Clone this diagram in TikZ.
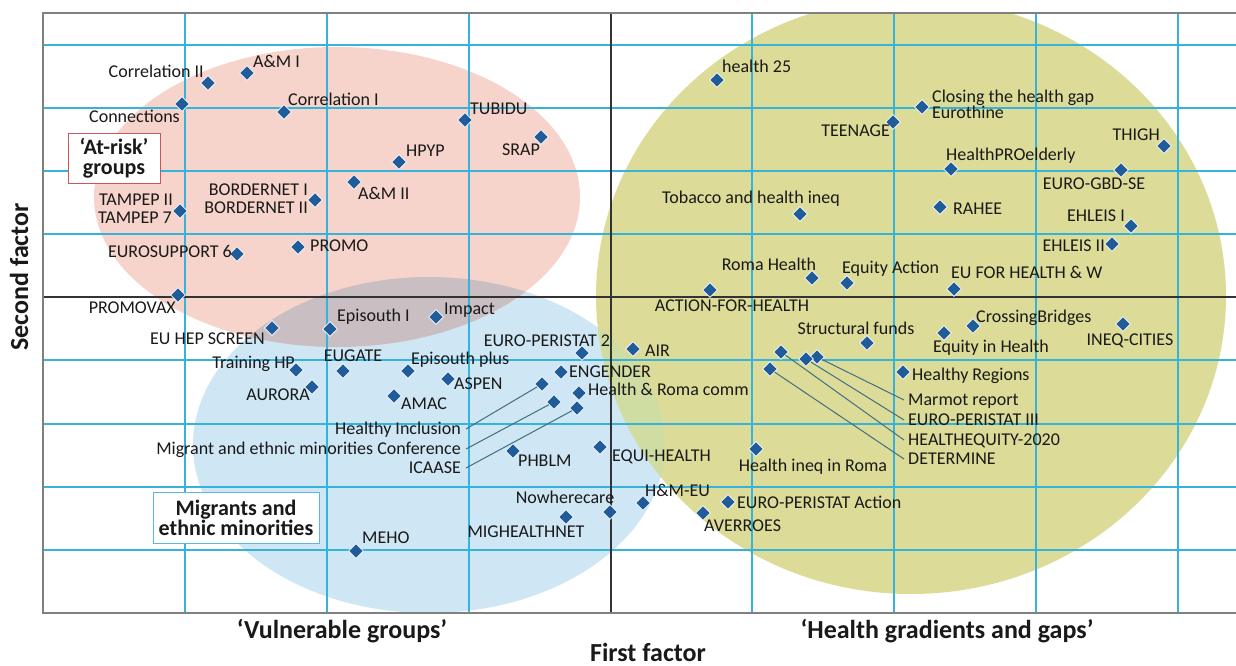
\documentclass[tikz,border=0pt]{standalone}
\usepackage{fontspec}
\setmainfont{Carlito}
\usetikzlibrary{shapes.geometric}

\definecolor{gridcyan}{HTML}{35B3DA}
\definecolor{riskpink}{HTML}{F6D3CB}
\definecolor{migrblue}{HTML}{CFE6F4}
\definecolor{overlapgrey}{HTML}{C9BFC3}
\definecolor{gapyellow}{HTML}{DCDC98}
\definecolor{gapgreen}{HTML}{D0DDA2}
\definecolor{projblue}{HTML}{1F5C99}
\definecolor{leadgrey}{HTML}{3F6F80}
\definecolor{riskred}{HTML}{C8585C}
\definecolor{migrcyan}{HTML}{5DB8DC}

\newcommand{\lblfont}{\fontsize{18}{20}\selectfont}
\newcommand{\axisfont}{\fontsize{26}{28}\selectfont\bfseries}
\newcommand{\boxfont}{\fontsize{22}{20}\selectfont\bfseries}

\tikzset{
  proj/.style={diamond, fill=projblue, draw=white, line width=0.7pt, inner sep=0pt, minimum size=15pt},
  lbl/.style={font=\lblfont, inner sep=0pt, text height=11.5pt, text depth=0pt, text=black!90},
  lead/.style={draw=leadgrey, line width=1pt},
  groupbox/.style={draw, fill=white, line width=1pt, font=\boxfont, align=center, inner sep=0pt, text=black!90},
  axislbl/.style={font=\axisfont, inner sep=0pt, text height=16pt, text depth=0pt, text=black!90},
  gridline/.style={gridcyan, line width=1.2pt},
}

\begin{document}
\begin{tikzpicture}[x=1pt, y=-1pt]
\useasboundingbox[fill=white] (0,0) rectangle (1236,666);

\begin{scope}
\clip (43,13) rectangle (1236,613);
\fill[migrblue] (429,445) ellipse [x radius=236pt, y radius=168pt];
\fill[riskpink] (337,197) ellipse [x radius=243pt, y radius=150pt];
\begin{scope}
\clip (429,445) ellipse [x radius=236pt, y radius=168pt];
\fill[overlapgrey] (337,197) ellipse [x radius=243pt, y radius=150pt];
\end{scope}
\fill[gapyellow] (911,296) ellipse [x radius=315pt, y radius=298pt];
\begin{scope}
\clip (429,445) ellipse [x radius=236pt, y radius=168pt];
\fill[gapgreen] (911,296) ellipse [x radius=315pt, y radius=298pt];
\end{scope}
\end{scope}

\foreach \x in {185,327,469,752,894,1036,1178}
  \draw[gridline] (\x,13) -- (\x,613);
\foreach \y in {45,108,171,234,360,424,487,550}
  \draw[gridline] (43,\y) -- (1236,\y);
\draw[black!80, line width=1.2pt] (611,13) -- (611,613);
\draw[black!80, line width=1.2pt] (43,297) -- (1236,297);
\draw[black!50, line width=1.3pt] (1236,13) -- (43,13) -- (43,613) -- (1236,613);

\node[groupbox, draw=riskred, minimum width=92pt, minimum height=49pt] (atrisk) at (114,158.5) {‘At-risk’\\groups};
\node[groupbox, draw=migrcyan, minimum width=166pt, minimum height=51pt] (migr) at (236,517.5) {Migrants and\\ethnic minorities};

\node[axislbl, rotate=90] (yaxis) at (20,277) {Second factor};
\node[axislbl] (xaxis) at (648,653) {First factor};
\node[axislbl] (vuln) at (342,630) {‘Vulnerable groups’};
\node[axislbl] (gaps) at (947,630) {‘Health gradients and gaps’};

\foreach \n/\x/\y in {corrII/208/83, amI/247/73, conn/182/104, corrI/284/112,
  hpyp/399/162, amII/354/182, bord/315/200, tampep/180/211, eurosup/237/254,
  promo/298/247, promovax/178/295, tubidu/465/120, srap/541/137, impact/436/317,
  episI/330/329, euhep/272/328, trainhp/296/370, eugate/343/371, aurora/312/387,
  amac/394/396, episplus/408/371, aspen/448/379, peristatII/582/353, air/633/349,
  engender/561/372, hrcomm/579/393, hincl/542/384, memc/554/402, icaase/577/408,
  phblm/513/451, equih/600/447, meho/356/551, nowhere/610/512, mighnet/566/517,
  hmeu/643/503, averroes/703/513, epaction/728/502, hineqroma/756/449,
  health25/717/80, tobacco/800/214, romah/812/278, afh/710/290, equitya/847/283,
  eufh/954/289, closing/922/107, teenage/893/122, thigh/1164/146, hpro/951/169,
  gbd/1121/170, rahee/940/207, ehleisI/1131/226, ehleisII/1112/244,
  structf/867/343, crossb/973/326, eqhealth/944/333, ineqc/1123/324,
  hregions/903/372, marmot/817/357, epIII/806/359, hequity/781/352,
  determine/770/369}
  \node[proj] (\n) at (\x,\y) {};

\foreach \n/\a/\x/\y/\t in {corrII-t/east/204/72/Correlation II,
  amI-t/west/253/62/A\&M I,
  conn-t/east/180/117/Connections,
  corrI-t/west/288/100/Correlation I,
  hpyp-t/west/406/151/HPYP,
  amII-t/west/358/194/A\&M II,
  bord-t/east/308/190/BORDERNET I,
  bord-u/east/308/208/BORDERNET II,
  tampep-t/east/173/200/TAMPEP II,
  tampep-u/east/172/218/TAMPEP 7,
  eurosup-t/east/232/252/EUROSUPPORT 6,
  promo-t/west/310/246/PROMO,
  promovax-t/east/176/308/PROMOVAX,
  tubidu-t/west/470/109/TUBIDU,
  srap-t/east/540/150/SRAP,
  impact-t/west/444/309/Impact,
  episI-t/west/337/316/Episouth I,
  euhep-t/east/265/339/EU HEP SCREEN,
  trainhp-t/east/295/363/Training HP,
  eugate-t/center/353/356/EUGATE,
  aurora-t/east/310/395/AURORA,
  amac-t/west/401/404/AMAC,
  episplus-t/west/411/359/Episouth plus,
  aspen-t/west/454/384/ASPEN,
  peristatII-t/center/547/341/EURO-PERISTAT 2,
  air-t/west/645/351/AIR,
  engender-t/west/569/372/ENGENDER,
  hrcomm-t/west/588/390/Health \& Roma comm,
  hincl-t/east/461/429/Healthy Inclusion,
  memc-t/east/461/449/Migrant and ethnic minorities Conference,
  icaase-t/east/461/468/ICAASE,
  phblm-t/west/518/461/PHBLM,
  equih-t/west/612/456/EQUI-HEALTH,
  meho-t/west/362/538/MEHO,
  nowhere-t/center/565/498/Nowherecare,
  mighnet-t/center/526/532/MIGHEALTHNET,
  hmeu-t/west/645/491/H\&M-EU,
  averroes-t/west/704/526/AVERROES,
  epaction-t/west/737/503/EURO-PERISTAT Action,
  hineqroma-t/center/813/466/Health ineq in Roma,
  health25-t/west/722/67/health 25,
  tobacco-t/center/751/198/Tobacco and health ineq,
  romah-t/center/769/265/Roma Health,
  afh-t/center/732/306/ACTION-FOR-HEALTH,
  equitya-t/west/842/268/Equity Action,
  eufh-t/west/951/273/EU FOR HEALTH \& W,
  closing-t/west/932/97/Closing the health gap,
  closing-u/west/932/113/Eurothine,
  teenage-t/east/890/131/TEENAGE,
  thigh-t/east/1160/135/THIGH,
  hpro-t/west/946/155/HealthPROelderly,
  gbd-t/center/1094/184/EURO-GBD-SE,
  rahee-t/west/953/209/RAHEE,
  ehleisI-t/east/1125/216/EHLEIS I,
  ehleisII-t/east/1105/246/EHLEIS II,
  structf-t/center/856/329/Structural funds,
  crossb-t/west/976/317/CrossingBridges,
  eqhealth-t/center/991/347/Equity in Health,
  ineqc-t/center/1130/340/INEQ-CITIES,
  hregions-t/west/912/375/Healthy Regions,
  marmot-t/west/908/400/Marmot report,
  epIII-t/west/908/420/EURO-PERISTAT III,
  hequity-t/west/908/440/HEALTHEQUITY-2020,
  determine-t/west/908/459/DETERMINE}
  \node[lbl, anchor=\a] (\n) at (\x,\y) {\t};

\foreach \n in {hincl,memc,icaase}
  \draw[lead] (\n) -- ([xshift=5pt]\n-t.east);
\foreach \n in {marmot,epIII,hequity,determine}
  \draw[lead] (\n) -- ([xshift=-4pt]\n-t.west);
\end{tikzpicture}
\end{document}
